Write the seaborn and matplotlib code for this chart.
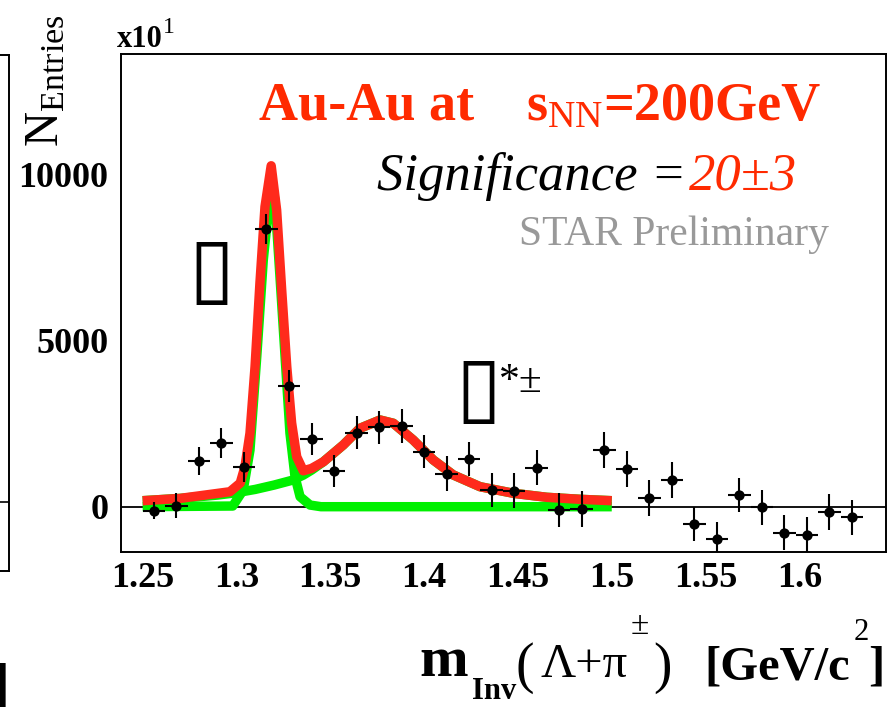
import numpy as np
import pandas as pd
import matplotlib
matplotlib.use("Agg")
import matplotlib.pyplot as plt
import seaborn as sns

# ---------------- data ----------------
mass = [1.256, 1.268, 1.280, 1.292, 1.304, 1.316, 1.328, 1.340, 1.352, 1.364,
        1.376, 1.388, 1.400, 1.412, 1.424, 1.436, 1.448, 1.460, 1.472, 1.484,
        1.496, 1.508, 1.520, 1.532, 1.544, 1.556, 1.568, 1.580, 1.592, 1.604,
        1.616, 1.628]
entries = [-120, 30, 1374, 1906, 1203, 8342, 3630, 2036, 1074, 2226,
           2388, 2427, 1654, 990, 1425, 502, 481, 1173, -99, -69,
           1705, 1125, 271, 794, -520, -981, 352, -18, -782, -860,
           -159, -319]
entries_err = [250, 375, 420, 450, 450, 450, 475, 475, 475, 500,
               500, 500, 500, 520, 510, 525, 525, 535, 525, 535,
               540, 540, 540, 540, 525, 525, 525, 535, 525, 540,
               530, 525]
bin_half_width = 0.006

# total fit (red)
fit_x = [1.250, 1.270, 1.2965, 1.302, 1.3045, 1.3072, 1.3099, 1.3125, 1.3152, 1.3185,
         1.3214, 1.3241, 1.3268, 1.3294, 1.3321, 1.3356, 1.340, 1.3463, 1.3569, 1.3658,
         1.3765, 1.3836, 1.3942, 1.4049, 1.4156, 1.4298, 1.4476, 1.4653, 1.4831, 1.500]
fit_y = [180, 250, 450, 710, 1200, 2210, 4210, 6720, 9020, 10250,
         8920, 6515, 4210, 2515, 1500, 1080, 1150, 1350, 1855, 2357,
         2607, 2508, 2005, 1404, 953, 601, 403, 283, 222, 180]

# Xi peak component (green)
xi_x = [1.250, 1.298, 1.3036, 1.3072, 1.3108, 1.3143, 1.3179, 1.3188, 1.3205, 1.3232,
        1.3259, 1.3285, 1.3312, 1.3339, 1.3392, 1.345, 1.500]
xi_y = [0, 20, 500, 1700, 4500, 7420, 9430, 9730, 9220, 6900,
        4510, 2210, 900, 300, 50, 0, 0]

# Sigma* + background component (green)
sig_x = [1.250, 1.270, 1.290, 1.300, 1.310, 1.320, 1.330, 1.3356, 1.340, 1.3463,
         1.3569, 1.3658, 1.3765, 1.3836, 1.3942, 1.4049, 1.4156, 1.4298, 1.4476, 1.4653,
         1.4831, 1.500]
sig_y = [180, 250, 350, 420, 520, 650, 800, 950, 1100, 1350,
         1855, 2357, 2607, 2508, 2005, 1404, 953, 601, 403, 283,
         222, 180]

xticks = [1.25, 1.30, 1.35, 1.40, 1.45, 1.50, 1.55, 1.60]
xtick_labels = ["1.25", "1.3", "1.35", "1.4", "1.45", "1.5", "1.55", "1.6"]
yticks = [0, 5000, 10000]
ytick_labels = ["0", "5000", "10000"]

# ---------------- style ----------------
sns.set_theme(style="white")
plt.rcParams["font.family"] = ["Liberation Serif", "DejaVu Sans"]
plt.rcParams["mathtext.fontset"] = "custom"
plt.rcParams["mathtext.rm"] = "Liberation Serif"
plt.rcParams["mathtext.it"] = "Liberation Serif:italic"
plt.rcParams["mathtext.bf"] = "Liberation Serif:bold"

W, H = 895, 710
fig = plt.figure(figsize=(W / 100, H / 100), dpi=100)
fig.patch.set_facecolor("white")


def fx(x):
    return x / W


def fy(y):
    return 1 - y / H


RED_LINE = "#ff2a1c"
RED_TEXT = "#ff2a00"
GREEN = "#00f000"

# main axes (pixel frame: x 121..886, y 54..552)
L, R, T, B = 120.7, 885.7, 54, 552
ax = fig.add_axes([fx(L), fy(B), (R - L) / W, (B - T) / H])
ax.set_xlim(1.2383, 1.646)
ax.set_ylim(-1362, 13610)

ax.axhline(0, color="black", lw=1.3, zorder=1)

df_xi = pd.DataFrame({"m": xi_x, "n": xi_y})
df_sig = pd.DataFrame({"m": sig_x, "n": sig_y})
df_fit = pd.DataFrame({"m": fit_x, "n": fit_y})
for d, c, z in ((df_xi, GREEN, 2), (df_sig, GREEN, 2), (df_fit, RED_LINE, 3)):
    sns.lineplot(data=d, x="m", y="n", ax=ax, color=c, lw=6.8,
                 sort=False, estimator=None, zorder=z, solid_capstyle="butt",
                 solid_joinstyle="round")

ax.errorbar(mass, entries, yerr=entries_err, xerr=bin_half_width, fmt="none",
            ecolor="black", elinewidth=1.5, capsize=0, zorder=4)
df_pts = pd.DataFrame({"m": mass, "n": entries})
sns.scatterplot(data=df_pts, x="m", y="n", ax=ax, color="black", s=55,
                marker="o", edgecolor="black", linewidth=0, zorder=5)

ax.set_xlabel("")
ax.set_ylabel("")
ax.set_xticks(xticks)
ax.set_xticklabels(xtick_labels)
ax.set_yticks(yticks)
ax.set_yticklabels(ytick_labels)
ax.tick_params(axis="x", direction="in", length=10.8, width=1.1, pad=7,
               labelsize=26, colors="black", top=False)
ax.tick_params(axis="y", direction="in", length=15.8, width=1.1, pad=9,
               labelsize=26, colors="black", right=False)
for lab in ax.get_xticklabels() + ax.get_yticklabels():
    lab.set_fontweight("bold")
for sp in ax.spines.values():
    sp.set_color("black")
    sp.set_linewidth(1.4)
    sp.set_visible(True)
ax.grid(False)

# partial neighbouring panel on the far left
ax2 = fig.add_axes([fx(-300), fy(571), 309 / W, (571 - 55) / H])
ax2.set_xlim(0, 1)
ax2.set_ylim(0, 1)
ax2.axhline((571 - 502) / (571 - 55), color="black", lw=1.2)
ax2.set_xticks([])
ax2.set_yticks([])
for sp in ax2.spines.values():
    sp.set_color("black")
    sp.set_linewidth(1.4)
fig.text(fx(9), fy(700), "]", ha="right", va="baseline", fontsize=38,
         fontweight="bold", color="black")

# ---------------- texts ----------------
fig.text(fx(46), fy(14), r"$\mathrm{N}_{\mathrm{Entries}}$", rotation=90,
         ha="center", va="top", fontsize=35, color="black")
fig.text(fx(117), fy(47), "x10", ha="left", va="baseline",
         fontsize=22, fontweight="bold", color="black")
fig.text(fx(163), fy(33), "1", ha="left", va="baseline",
         fontsize=17, color="black")

# x-axis title, assembled piece by piece
fig.text(fx(419), fy(676), "m", ha="left", va="baseline", fontsize=42,
         fontweight="bold", color="black")
fig.text(fx(472), fy(699), "Inv", ha="left", va="baseline", fontsize=22,
         fontweight="bold", color="black")
fig.text(fx(516), fy(682), "(", ha="left", va="baseline", fontsize=40,
         color="black")
fig.text(fx(541), fy(677), "\u039b+\u03c0", ha="left", va="baseline",
         fontsize=35, color="black")
fig.text(fx(631), fy(634), "\u00b1", ha="left", va="baseline", fontsize=24,
         color="black")
fig.text(fx(653), fy(682), ")", ha="left", va="baseline", fontsize=40,
         color="black")
fig.text(fx(850), fy(680), "[GeV/c", ha="right", va="baseline", fontsize=35,
         fontweight="bold", color="black")
fig.text(fx(869), fy(640), "2", ha="right", va="baseline", fontsize=22,
         color="black")
fig.text(fx(884), fy(680), "]", ha="right", va="baseline", fontsize=35,
         fontweight="bold", color="black")

fig.text(fx(259), fy(120), "Au-Au at", ha="left", va="baseline", fontsize=39,
         fontweight="bold", color=RED_TEXT)
fig.text(fx(526), fy(120), r"$\mathbf{s}_{\mathrm{NN}}$", ha="left",
         va="baseline", fontsize=39, color=RED_TEXT)
fig.text(fx(603), fy(120), "=200GeV", ha="left", va="baseline", fontsize=39,
         fontweight="bold", color=RED_TEXT)

fig.text(fx(377), fy(190), "Significance =", ha="left", va="baseline",
         fontsize=38, fontstyle="italic", color="black")
fig.text(fx(689), fy(190), "20\u00b13", ha="left", va="baseline",
         fontsize=38, fontstyle="italic", color=RED_TEXT)
fig.text(fx(519), fy(245), "STAR Preliminary", ha="left", va="baseline",
         fontsize=30, color="#999999")

fig.text(fx(211), fy(295), "\u25af", ha="center", va="baseline",
         fontsize=60, color="black", family=["DejaVu Sans"])
fig.text(fx(478), fy(414), "\u25af", ha="center", va="baseline",
         fontsize=60, color="black", family=["DejaVu Sans"])
fig.text(fx(499), fy(392), "*\u00b1", ha="left", va="baseline",
         fontsize=30, color="black")

fig.savefig("out.png", dpi=100, facecolor="white")
